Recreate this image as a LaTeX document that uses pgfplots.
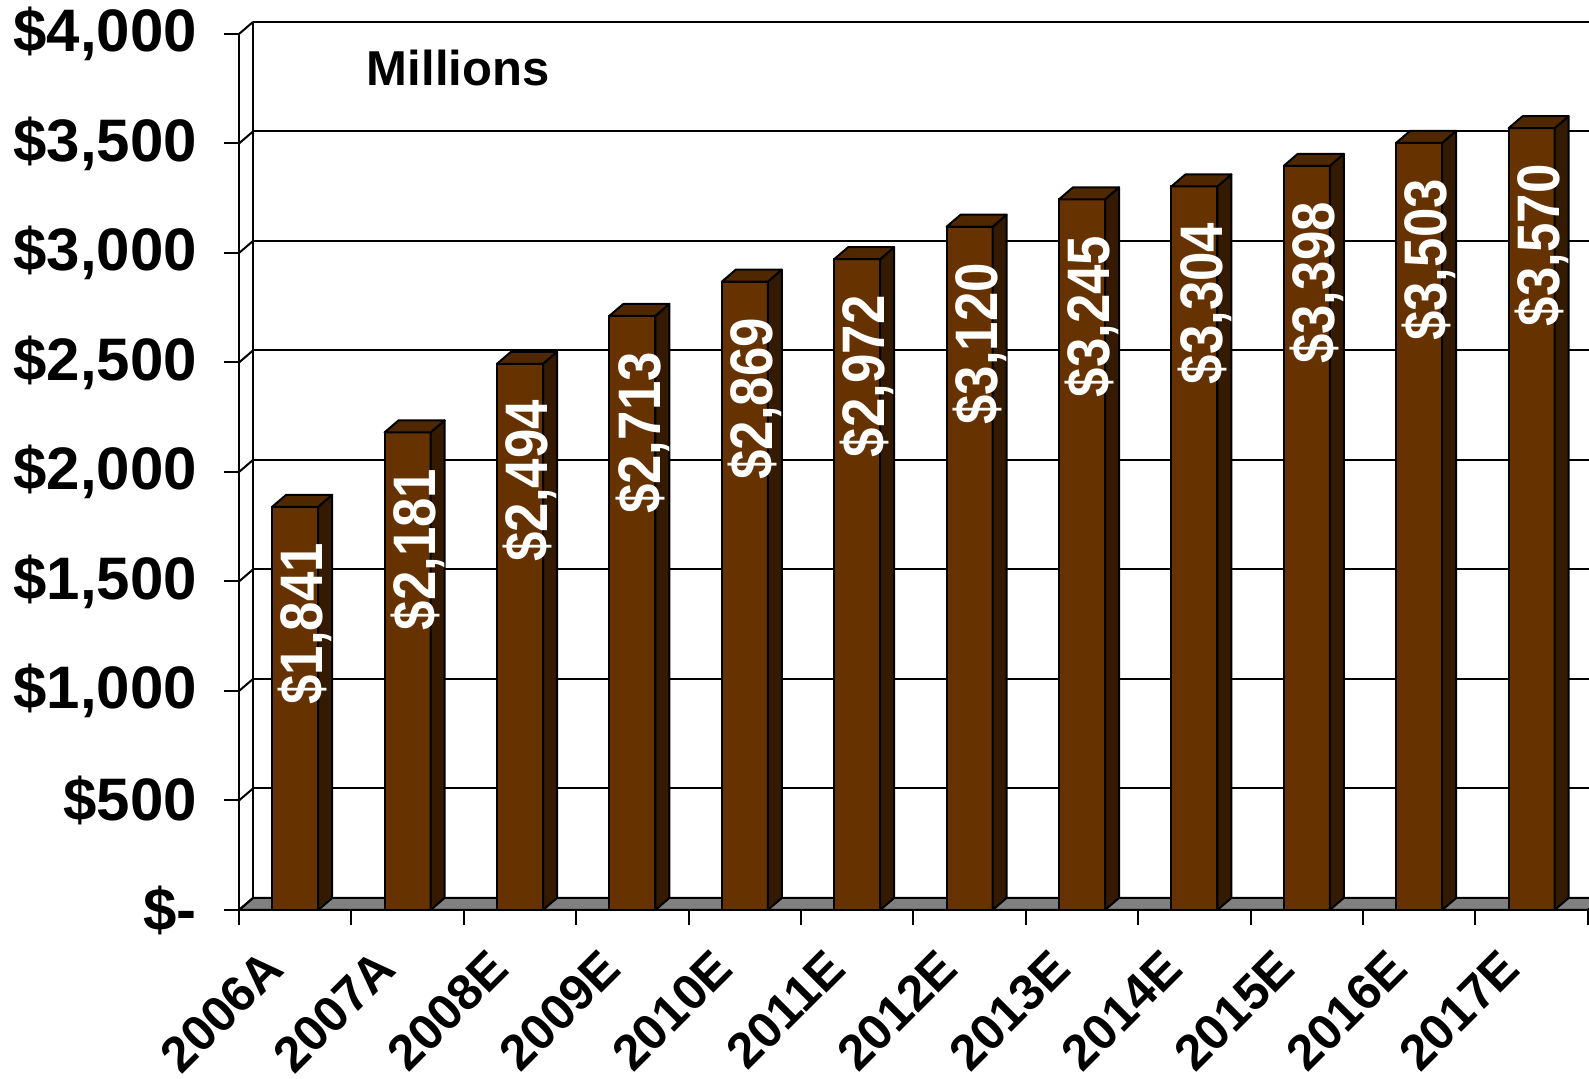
\documentclass[border=0pt]{standalone}
\usepackage{fontspec}
\setmainfont{Liberation Sans}
\usepackage{pgfplots}
\pgfplotsset{compat=1.18}
\usepackage{pgfplotstable}

\definecolor{barfront}{RGB}{102,51,0}
\definecolor{bartop}{RGB}{80,40,0}
\definecolor{barside}{RGB}{51,26,0}
\definecolor{floorgray}{RGB}{128,128,128}

% revenue, millions of dollars
\pgfplotstableread{
x year value
0 2006A 1841
1 2007A 2181
2 2008E 2494
3 2009E 2713
4 2010E 2869
5 2011E 2972
6 2012E 3120
7 2013E 3245
8 2014E 3304
9 2015E 3398
10 2016E 3503
11 2017E 3570
}\revenue

\begin{document}
\begin{tikzpicture}
\useasboundingbox (-119.5pt,-84.5pt) rectangle (675pt,455pt);
\begin{axis}[
    x=56.2pt, y=0.1095pt,
    xmin=-0.5, xmax=11.5, ymin=0, ymax=4000,
    axis x line*=bottom, axis y line*=left,
    axis line style={-, line width=1pt},
    tick align=outside, major tick length=7.5pt,
    tick style={black, line width=1pt},
    ytick={0,500,...,4000},
    yticklabels={\$-,\$500,{\$1,000},{\$1,500},{\$2,000},{\$2,500},{\$3,000},{\$3,500},{\$4,000}},
    yticklabel style={font=\fontsize{30}{30}\selectfont\bfseries, xshift=-10pt},
    xtick={-0.5,0.5,...,11.5},
    xticklabels={2006A,2007A,2008E,2009E,2010E,2011E,2012E,2013E,2014E,2015E,2016E,2017E,{}},
    xticklabel style={font=\fontsize{25}{25}\selectfont\bfseries,
        xshift=17.5pt, yshift=-17pt, rotate=45, anchor=east, inner sep=0pt},
    clip=false,
]
% floor
\filldraw[fill=floorgray, draw=black, line width=1pt]
    (axis cs:-0.5,0) -- (axis cs:11.5,0)
    -- ([shift={(7pt,6pt)}]axis cs:11.5,0)
    -- ([shift={(7pt,6pt)}]axis cs:-0.5,0) -- cycle;
% back wall
\draw[line width=1pt] ([shift={(7pt,6pt)}]axis cs:-0.5,0) -- ([shift={(7pt,6pt)}]axis cs:-0.5,4000);
\pgfplotsinvokeforeach{500,1000,...,4000}{
    \draw[line width=1pt] ([shift={(7pt,6pt)}]axis cs:-0.5,#1) -- ([shift={(7pt,6pt)}]axis cs:11.5,#1);
}
\pgfplotsinvokeforeach{0,500,...,4000}{
    \draw[line width=1pt] (axis cs:-0.5,#1) -- ([shift={(7pt,6pt)}]axis cs:-0.5,#1);
}
\node[font=\fontsize{24.5}{24.5}\selectfont\bfseries] at (axis cs:1.45,3845) {Millions};

% front faces
\addplot[ybar, bar width=23pt, fill=barfront, draw=black, line width=1pt]
    table[x=x, y=value] {\revenue};

% top and side faces
\addplot[only marks, mark=*, mark size=0pt, mark options={draw=none, fill=none},
    scatter,
    visualization depends on={rawy \as \rawy},
    scatter/@pre marker code/.code={
        \pgfmathsetlengthmacro\barh{\rawy*0.1095pt}
        \filldraw[fill=barside, draw=black, line width=1pt, line join=round]
            (11.5pt,0pt) -- (18.5pt,6pt) -- (18.5pt,6pt-\barh) -- (11.5pt,-\barh) -- cycle;
        \filldraw[fill=bartop, draw=black, line width=1pt, line join=round]
            (-11.5pt,0pt) -- (11.5pt,0pt) -- (18.5pt,6pt) -- (-4.5pt,6pt) -- cycle;
    },
    scatter/@post marker code/.code={},
] table[x=x, y=value] {\revenue};

% value labels
\addplot[only marks, mark=*, mark size=0pt, mark options={draw=none, fill=none},
    nodes near coords={\scalebox{0.88}[1]{\$\pgfmathprintnumber[fixed, precision=0, 1000 sep={,}, assume math mode=true]{\pgfplotspointmeta}}},
    every node near coord/.append style={font=\fontsize{30}{30}\selectfont\bfseries,
        text=white, xshift=5pt, yshift=-18pt, rotate=90, anchor=east, inner sep=0pt},
] table[x=x, y=value] {\revenue};
\end{axis}
\end{tikzpicture}
\end{document}
